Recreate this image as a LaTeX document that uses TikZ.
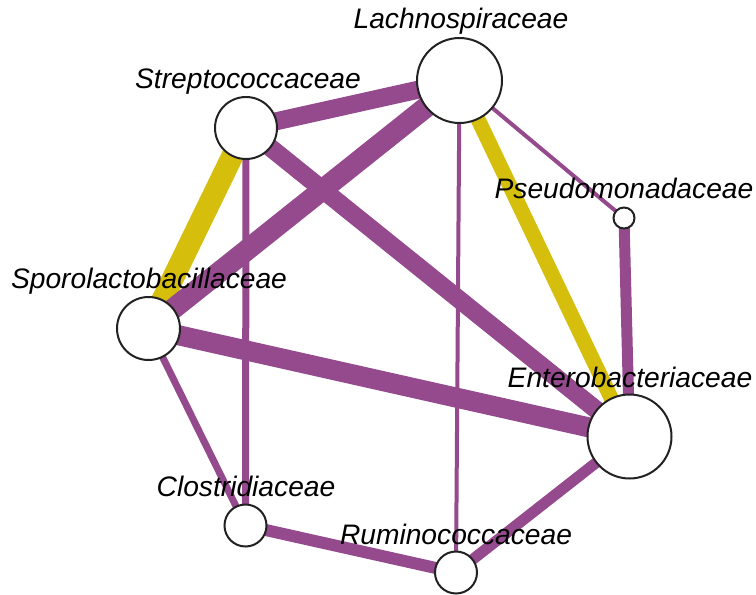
\documentclass[tikz,border=0pt]{standalone}
\usepackage{fontspec}
\setmainfont{Liberation Sans}
\usetikzlibrary{backgrounds}
\definecolor{edgepurple}{RGB}{148,74,140}
\definecolor{edgeyellow}{RGB}{214,190,12}
\definecolor{ringgray}{RGB}{34,34,34}
\begin{document}
\begin{tikzpicture}[x=1pt,y=-1pt,
  taxon/.style={circle,draw=ringgray,line width=2pt,fill=white,inner sep=0pt,minimum size=#1},
  lbl/.style={font=\fontsize{28.2}{31}\selectfont\itshape,inner sep=0pt,anchor=base},
  posedge/.style={draw=edgepurple,line cap=butt},
  negedge/.style={draw=edgeyellow,line cap=butt}]
\useasboundingbox (0,0) rectangle (756,595);
% circles
\node[taxon=85pt] (lac) at (459.5,80.5) {};
\node[taxon=62pt] (str) at (246,128) {};
\node[taxon=21pt] (pse) at (624,218) {};
\node[taxon=63pt] (spo) at (148.5,328.5) {};
\node[taxon=84pt] (ent) at (629.5,436.5) {};
\node[taxon=42pt] (clo) at (245.5,525.5) {};
\node[taxon=42pt] (rum) at (456,572.5) {};
% edges
\begin{pgfonlayer}{background}
\draw[posedge,line width=4pt] (lac.center) -- (rum.center);
\draw[posedge,line width=4pt] (lac.center) -- (pse.center);
\draw[posedge,line width=7pt] (str.center) -- (clo.center);
\draw[posedge,line width=7pt] (spo.center) -- (clo.center);
\draw[posedge,line width=12pt] (clo.center) -- (rum.center);
\draw[posedge,line width=11pt] (rum.center) -- (ent.center);
\draw[posedge,line width=11pt] (pse.center) -- (ent.center);
\draw[negedge,line width=15pt] (lac.center) -- (ent.center);
\draw[negedge,line width=22pt] (str.center) -- (spo.center);
\draw[posedge,line width=18pt] (str.center) -- (lac.center);
\draw[posedge,line width=18pt] (str.center) -- (ent.center);
\draw[posedge,line width=20pt] (spo.center) -- (ent.center);
\draw[posedge,line width=21pt] (lac.center) -- (spo.center);
\end{pgfonlayer}
% labels
\node[lbl] (laclbl) at (461,28.5) {Lachnospiraceae};
\node[lbl] (strlbl) at (248,88.5) {Streptococcaceae};
\node[lbl] (pselbl) at (624,198) {Pseudomonadaceae};
\node[lbl] (spolbl) at (149,288) {Sporolactobacillaceae};
\node[lbl] (entlbl) at (630,387) {Enterobacteriaceae};
\node[lbl] (clolbl) at (246,496) {Clostridiaceae};
\node[lbl] (rumlbl) at (456,544) {Ruminococcaceae};
\end{tikzpicture}
\end{document}
